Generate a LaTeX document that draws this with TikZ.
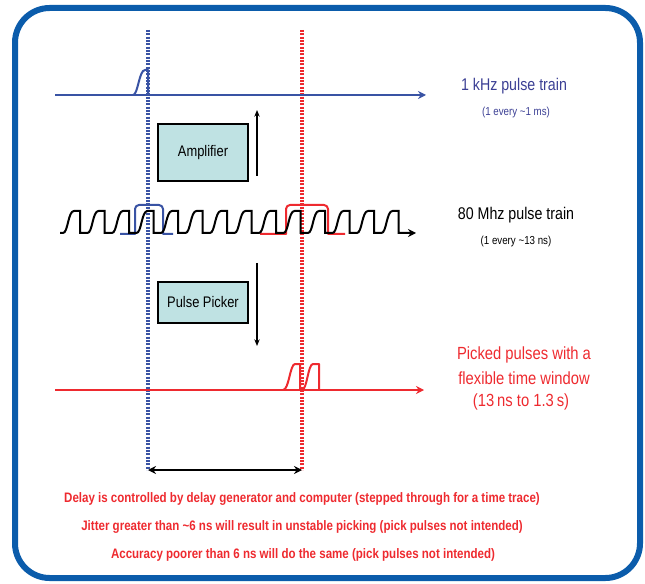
\documentclass[tikz,border=0pt]{standalone}
\usepackage{fontspec}
\setmainfont{Liberation Sans}
\newfontfamily\narrowfont[FakeStretch=0.84]{Liberation Sans}
\usetikzlibrary{arrows.meta}
\definecolor{frameblue}{HTML}{0B5CAB}
\definecolor{lineblue}{HTML}{3953A4}
\definecolor{textblue}{HTML}{3B3F94}
\definecolor{pred}{HTML}{EE2A2F}
\definecolor{boxfill}{HTML}{BFE2E3}
\tikzset{
  axis/.style={line width=1.6pt,-{Stealth[length=6pt,width=6pt]}},
  marker/.style={line width=2.3pt,dash pattern=on 1.6pt off 0.9pt},
  pulse/.style={line width=1.5pt,line join=round},
  blockbox/.style={draw,line width=1.1pt,fill=boxfill,minimum width=67.5pt,inner sep=0pt,font=\narrowfont\fontsize{11.5}{13}\selectfont},
  flowarrow/.style={line width=1pt,-{Stealth[length=5pt,width=4pt]}},
  lbl/.style={font=\narrowfont\fontsize{12.7}{14}\selectfont,inner sep=0pt},
  redlbl/.style={font=\narrowfont\fontsize{13.2}{15}\selectfont,inner sep=0pt,text=pred},
  sublbl/.style={font=\narrowfont\fontsize{8.7}{10}\selectfont,inner sep=0pt},
  note/.style={font=\narrowfont\bfseries\fontsize{10.3}{12}\selectfont,text=pred,inner sep=0pt}
}
\begin{document}
\begin{tikzpicture}[x=0.75pt,y=-0.75pt]
\useasboundingbox (0,0) rectangle (645,584);
% frame
\draw[frameblue,line width=4.5pt,rounded corners=26pt] (15,8) rectangle (640,578);
% marker lines
\coordinate (bt) at (148,30); \coordinate (bb) at (148,470);
\coordinate (rt) at (302,30); \coordinate (rb) at (302,470);
\draw[marker,lineblue] (bt) -- (bb);
\draw[marker,pred] (rt) -- (rb);
% 1 kHz train
\coordinate (a1s) at (55,95); \coordinate (a1e) at (426,95);
\draw[axis,lineblue] (a1s) -- (a1e);
\draw[pulse,lineblue] (133,95) .. controls (138,95) and (139,70) .. (145,70) -- (148,70) -- (148,95);
\node[lbl,text=textblue] (l1) at (514,86) {1 kHz pulse train};
\node[sublbl,text=textblue] (l1s) at (516,113) {(1 every {\textasciitilde}1 ms)};
% amplifier
\node[blockbox,minimum height=43pt] (amp) at (203,152.5) {Amplifier};
\coordinate (aup1) at (257,176); \coordinate (aup2) at (257,110);
\draw[flowarrow] (aup1) -- (aup2);
% 80 MHz train
\coordinate (a2s) at (60,233); \coordinate (a2e) at (416,233);
\draw[pulse,lineblue] (120,234) -- (135,234) [rounded corners=3pt] -- (135,205) -- (163,205) [sharp corners] -- (163,234) -- (173,234);
\draw[pulse,pred] (260,234) -- (286,234) [rounded corners=3pt] -- (286,205) -- (328,205) [sharp corners] -- (328,234) -- (345,234);
\draw[axis,black,line width=1.5pt] (a2s) \foreach \k in {0,...,13}{
  -- ({80+24.5*\k-17},233) .. controls ({80+24.5*\k-12},233) and ({80+24.5*\k-12},211) .. ({80+24.5*\k-6},211) -- ({80+24.5*\k},211) -- ({80+24.5*\k},233)
} -- (a2e);
\node[lbl] (l2) at (516,215) {80 Mhz pulse train};
\node[sublbl] (l2s) at (516,242) {(1 every {\textasciitilde}13 ns)};
% pulse picker
\node[blockbox,minimum height=30.75pt] (pp) at (203,302.5) {Pulse Picker};
\coordinate (pd1) at (257,263); \coordinate (pd2) at (257,346);
\draw[flowarrow] (pd1) -- (pd2);
% picked train
\coordinate (a3s) at (55,390); \coordinate (a3e) at (424,390);
\draw[axis,pred] (a3s) -- (a3e);
\draw[pulse,pred] (283,390) .. controls (289,390) and (290,364) .. (295,364) -- (300,364) -- (300,390);
\draw[pulse,pred] (302,390) .. controls (307,390) and (308,364) .. (313,364) -- (319,364) -- (319,390);
\node[redlbl] (l3a) at (524,355) {Picked pulses with a};
\node[redlbl] (l3b) at (524,378) {flexible time window};
\node[redlbl] (l3c) at (521,402) {(13\,ns to 1.3\,s)};
% delay arrow
\draw[line width=1.5pt,{Stealth[length=6pt,width=6pt]}-{Stealth[length=6pt,width=6pt]}] (bb) -- (rb);
% notes
\node[note] (n1) at (302,499) {Delay is controlled by delay generator and computer (stepped through for a time trace)};
\node[note] (n2) at (302,527) {Jitter greater than {\textasciitilde}6 ns will result in unstable picking (pick pulses not intended)};
\node[note] (n3) at (303,555) {Accuracy poorer than 6 ns will do the same (pick pulses not intended)};
\end{tikzpicture}
\end{document}
